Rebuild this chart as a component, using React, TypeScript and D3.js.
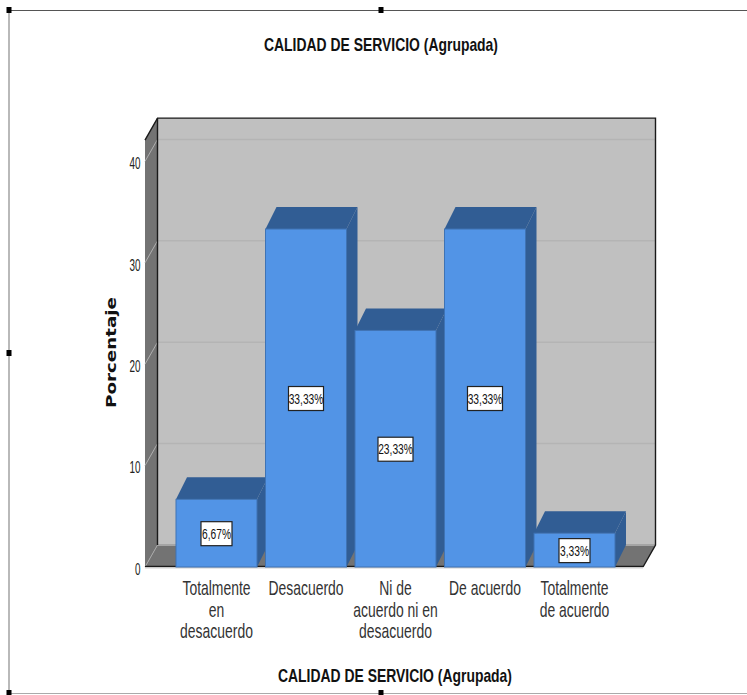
import React from "react";
import * as d3 from "d3";

// Grouped service-quality survey results, in percent
const categories = ["Totalmente en desacuerdo", "Desacuerdo", "Ni de acuerdo ni en desacuerdo", "De acuerdo", "Totalmente de acuerdo"];
const categoryLines = [
  ["Totalmente", "en", "desacuerdo"],
  ["Desacuerdo"],
  ["Ni de", "acuerdo ni en", "desacuerdo"],
  ["De acuerdo"],
  ["Totalmente", "de acuerdo"],
];
const percentages = [6.67, 33.33, 23.33, 33.33, 3.33];
const valueLabels = ["6,67%", "33,33%", "23,33%", "33,33%", "3,33%"];
const yTicks = [0, 10, 20, 30, 40];
const chartTitle = "CALIDAD DE SERVICIO (Agrupada)";

const W = 747;
const H = 695;
const FONT = "'Liberation Sans', Arial, sans-serif";

// Oblique projection of the 3D box: offset of the rear plane from the front plane
const WALL_DX = 12.5;
const WALL_DY = -22;
const BAR_DX = 11;
const BAR_DY = -22;

const y = d3.scaleLinear().domain([0, 40]).range([567, 161.4]);
const x = d3.scaleBand<string>().domain(categories).range([176, 615]).paddingInner(0.095).paddingOuter(0);

const frontLeft = 145;
const frontRight = 643;
const frontTop = y(42.1);
const frontBottom = y(0);

const poly = (pts: number[][]) => pts.map((p) => p.join(",")).join(" ");

function Squeezed({ x: tx, y: ty, sx, size, weight, fill, anchor, children }: any) {
  return (
    <text
      transform={`translate(${tx},${ty}) scale(${sx},1)`}
      textAnchor={anchor ?? "middle"}
      fontFamily={FONT}
      fontSize={size}
      fontWeight={weight ?? "normal"}
      fill={fill ?? "#222"}
    >
      {children}
    </text>
  );
}

function Handle({ cx, cy }: { cx: number; cy: number }) {
  return <rect x={cx - 2.5} y={cy - 3} width={5} height={6} fill="#000" />;
}

export default function App() {
  const backLeft = frontLeft + WALL_DX;
  const backRight = frontRight + WALL_DX;
  const backTop = frontTop + WALL_DY;
  const backBottom = frontBottom + WALL_DY;

  return (
    <svg width={W} height={H} viewBox={`0 0 ${W} ${H}`} style={{ position: "absolute", left: 0, top: 0, display: "block", background: "#fff" }}>
      {/* Selection frame of the chart object */}
      <line x1={9} y1={10.5} x2={W} y2={10.5} stroke="#555" strokeWidth={1.2} />
      <line x1={9} y1={10} x2={9} y2={693} stroke="#8a8a8a" strokeWidth={1.2} />
      <line x1={9} y1={693.5} x2={W} y2={693.5} stroke="#aaa" strokeWidth={1.2} />
      <Handle cx={9} cy={10} />
      <Handle cx={381} cy={10} />
      <Handle cx={9} cy={353} />
      <Handle cx={9} cy={693} />
      <Handle cx={381} cy={693} />

      <text x={381} y={50.5} textAnchor="middle" fontFamily={FONT} fontSize={19} fontWeight="bold" fill="#111" textLength={234} lengthAdjust="spacingAndGlyphs">
        {chartTitle}
      </text>

      {/* Walls and floor */}
      <rect x={backLeft} y={backTop} width={backRight - backLeft} height={backBottom - backTop} fill="#c0c0c0" />
      <polygon points={poly([[frontLeft, frontTop], [backLeft, backTop], [backLeft, backBottom], [frontLeft, frontBottom]])} fill="#737373" />
      <polygon points={poly([[frontLeft, frontBottom], [backLeft, backBottom], [backRight, backBottom], [frontRight, frontBottom]])} fill="#737373" />

      {/* Gridlines on the back and side walls */}
      {yTicks.filter((t) => t > 0).map((t) => (
        <g key={t}>
          <line x1={backLeft} x2={backRight} y1={y(t) + WALL_DY} y2={y(t) + WALL_DY} stroke="#b4b4b4" strokeWidth={1.5} />
          <line x1={frontLeft} x2={backLeft} y1={y(t)} y2={y(t) + WALL_DY} stroke="#b0b0b0" strokeWidth={1} />
        </g>
      ))}
      <line x1={backLeft} x2={backRight} y1={backBottom} y2={backBottom} stroke="#a5a5a5" strokeWidth={2} />

      {/* Box outline */}
      <polyline points={poly([[frontLeft, frontTop], [backLeft, backTop], [backRight, backTop], [backRight, backBottom], [frontRight, frontBottom]])} fill="none" stroke="#1a1a1a" strokeWidth={1.4} />
      <line x1={backLeft} x2={backLeft} y1={backTop} y2={backBottom} stroke="#1a1a1a" strokeWidth={1.4} />
      <line x1={frontLeft} x2={backLeft} y1={frontBottom} y2={backBottom} stroke="#a8a8a8" strokeWidth={1} />
      <line x1={frontLeft} x2={frontRight} y1={frontBottom - 0.5} y2={frontBottom - 0.5} stroke="#1a1a1a" strokeWidth={1.5} />
      <line x1={frontLeft} x2={frontRight} y1={frontBottom + 1} y2={frontBottom + 1} stroke="#cfcfcf" strokeWidth={1} />

      {/* Bars */}
      {categories.map((c, i) => {
        const v = percentages[i];
        const x0 = x(c)!;
        const x1 = x0 + x.bandwidth();
        const top = y(v);
        const cx = x0 + x.bandwidth() / 2;
        const cy = (top + frontBottom) / 2;
        const boxW = valueLabels[i].length > 5 ? 35 : 31;
        return (
          <g key={c}>
            <polygon points={poly([[x1, top], [x1 + BAR_DX, top + BAR_DY], [x1 + BAR_DX, frontBottom + BAR_DY], [x1, frontBottom]])} fill="#315d94" />
            <polygon points={poly([[x0, top], [x0 + BAR_DX, top + BAR_DY], [x1 + BAR_DX, top + BAR_DY], [x1, top]])} fill="#315d94" />
            <rect x={x0} y={top} width={x.bandwidth()} height={frontBottom - top} fill="#5294e6" stroke="#3f73b4" strokeWidth={1} />
            <rect x={cx - boxW / 2} y={cy - 11.5} width={boxW} height={24} fill="#fff" stroke="#222" strokeWidth={1.2} />
            <Squeezed x={cx} y={cy + 5.5} sx={0.66} size={15.5} fill="#111">{valueLabels[i]}</Squeezed>
          </g>
        );
      })}

      {/* Value axis */}
      {yTicks.map((t) => (
        <Squeezed key={t} x={140.5} y={y(t) + 7.7} sx={0.6} size={16.5} anchor="end">{t}</Squeezed>
      ))}
      <text transform="translate(116,352.5) rotate(-90)" textAnchor="middle" fontFamily="'DejaVu Sans', sans-serif" fontWeight="bold" fontSize={14.5} fill="#111" textLength={111} lengthAdjust="spacingAndGlyphs">
        Porcentaje
      </text>

      {/* Category axis */}
      {categories.map((c, i) => (
        <g key={c}>
          {categoryLines[i].map((line, k) => (
            <Squeezed key={k} x={x(c)! + x.bandwidth() / 2} y={595 + k * 21.5} sx={0.68} size={20.5} fill="#333">{line}</Squeezed>
          ))}
        </g>
      ))}

      <text x={395} y={681.5} textAnchor="middle" fontFamily={FONT} fontSize={19} fontWeight="bold" fill="#111" textLength={234} lengthAdjust="spacingAndGlyphs">
        {chartTitle}
      </text>
    </svg>
  );
}
